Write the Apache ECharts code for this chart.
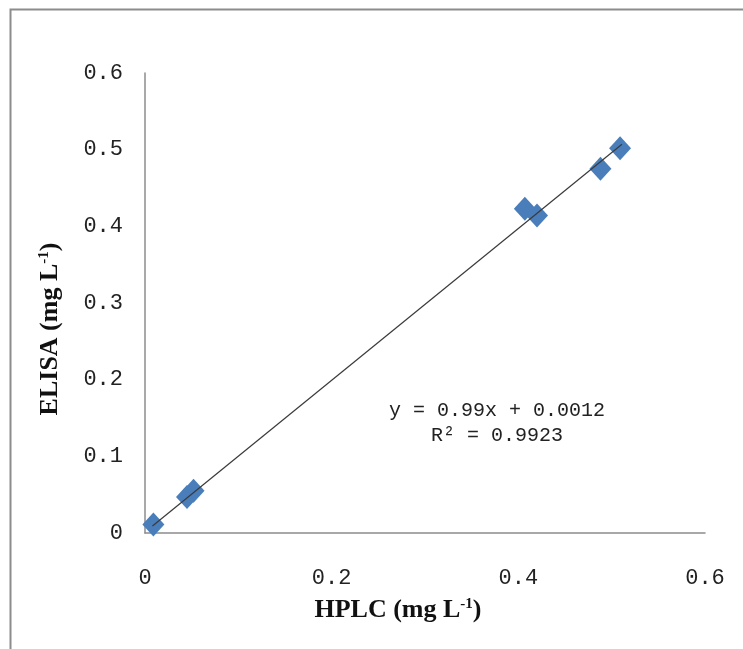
<!DOCTYPE html>
<html>
<head>
<meta charset="utf-8">
<script src="https://cdn.jsdelivr.net/npm/echarts@6/dist/echarts.min.js"></script>
<style>
  html, body { margin: 0; padding: 0; background: #fff; }
  #main { width: 743px; height: 649px; }
</style>
</head>
<body>
<div id="main"></div>
<script>
// HPLC vs ELISA
var hplc = [0.009, 0.045, 0.052, 0.407, 0.420, 0.488, 0.509];
var elisa = [0.011, 0.047, 0.055, 0.423, 0.414, 0.475, 0.502];
// linear trendline ends (y = 0.99x + 0.0012 over the data range)
var trendX = [0.008, 0.511];
var trendY = [0.0091, 0.5071];
var equation = 'y = 0.99x + 0.0012';
var rSquared = 'R² = 0.9923';

var chart = echarts.init(document.getElementById('main'));

var points = hplc.map(function (x, i) { return [x, elisa[i]]; });
var trend = trendX.map(function (x, i) { return [x, trendY[i]]; });

var tickFont = {
  color: '#222',
  fontFamily: 'Liberation Mono',
  fontSize: 22
};

var titleRich = {
  a: { fontFamily: 'Liberation Serif', fontWeight: 'bold', fontSize: 26, color: '#111' },
  sup: { fontFamily: 'Liberation Serif', fontWeight: 'bold', fontSize: 15, color: '#111', verticalAlign: 'top', padding: [0, 0, 11, 0] }
};

var option = {
  backgroundColor: '#fff',
  animation: false,
  grid: { left: 145, top: 73, right: 38, bottom: 116, containLabel: false },
  xAxis: {
    type: 'value',
    min: 0,
    max: 0.6,
    interval: 0.2,
    name: '{a|HPLC (mg L}{sup|-1}{a|)}',
    nameLocation: 'middle',
    nameGap: 64,
    nameTextStyle: { rich: titleRich, padding: [0, 54, 0, 0] },
    axisLine: { onZero: false, lineStyle: { color: '#8c8c8c', width: 1.5 } },
    axisTick: { show: false },
    splitLine: { show: false },
    axisLabel: Object.assign({ margin: 34, formatter: function (v) { return v === 0 ? '0' : v.toFixed(1); } }, tickFont)
  },
  yAxis: {
    type: 'value',
    min: 0,
    max: 0.6,
    interval: 0.1,
    name: '{a|ELISA (mg L}{sup|-1}{a|)}',
    nameLocation: 'middle',
    nameRotate: 90,
    nameGap: 82,
    nameTextStyle: { rich: titleRich, padding: [0, 52, 0, 0] },
    axisLine: { onZero: false, lineStyle: { color: '#8c8c8c', width: 1.5 } },
    axisTick: { show: false },
    splitLine: { show: false },
    axisLabel: Object.assign({ margin: 22, formatter: function (v) { return v === 0 ? '0' : v.toFixed(1); } }, tickFont)
  },
  graphic: [
    {
      type: 'rect',
      left: 8,
      top: 7,
      shape: { width: 760, height: 660 },
      style: { fill: 'none', stroke: '#8c8c8c', lineWidth: 2 },
      silent: true,
      z: -10
    },
    {
      type: 'text',
      x: 497,
      y: 411,
      style: {
        text: equation,
        fontFamily: 'Liberation Mono',
        fontSize: 20,
        fill: '#222',
        align: 'center',
        verticalAlign: 'middle'
      }
    },
    {
      type: 'text',
      x: 497,
      y: 436,
      style: {
        text: rSquared,
        fontFamily: 'Liberation Mono',
        fontSize: 20,
        fill: '#222',
        align: 'center',
        verticalAlign: 'middle'
      }
    }
  ],
  series: [
    {
      type: 'scatter',
      data: points,
      symbol: 'diamond',
      symbolSize: [22, 24],
      itemStyle: { color: '#4a7ebb', opacity: 1 },
      z: 2
    },
    {
      type: 'line',
      data: trend,
      symbol: 'none',
      lineStyle: { color: '#3a3a3a', width: 1.2 },
      z: 3
    }
  ]
};

chart.setOption(option);
</script>
</body>
</html>
